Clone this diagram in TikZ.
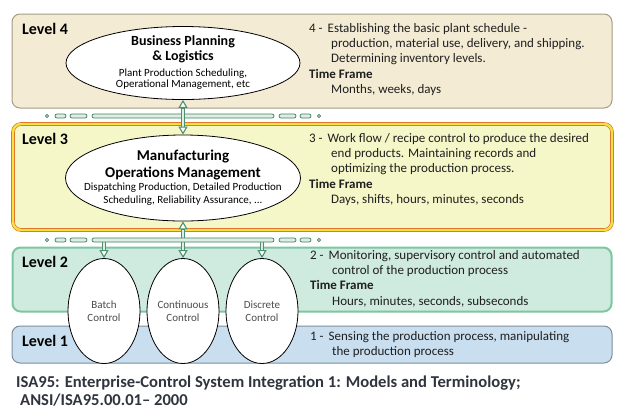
\documentclass[tikz,border=0pt]{standalone}
\usepackage{fontspec}
\setmainfont{Carlito}
\usetikzlibrary{shapes.geometric,arrows.meta,calc}

\definecolor{fourfill}{HTML}{F3EBD4}
\definecolor{fourline}{HTML}{A39B84}
\definecolor{threefill}{HTML}{F6F7C9}
\definecolor{threeline}{HTML}{E0672C}
\definecolor{threeband}{HTML}{F2E33E}
\definecolor{twofill}{HTML}{CFEADE}
\definecolor{twoline}{HTML}{7CC6A2}
\definecolor{onefill}{HTML}{C9DFEF}
\definecolor{oneline}{HTML}{7F8D99}
\definecolor{busgreen}{HTML}{3F7F5E}
\definecolor{pipegreen}{HTML}{4C9070}
\definecolor{pipefill}{HTML}{DDEFE3}
\definecolor{captext}{HTML}{30343E}

\tikzset{
  levelbox/.style={rounded corners=8pt, inner sep=0pt},
  lvl/.style={anchor=west, inner sep=0pt, font=\fontsize{16}{18}\selectfont\bfseries},
  desc/.style={anchor=north west, inner sep=0pt, align=left, text=black!88,
    font=\fontsize{13}{15.3}\selectfont},
  bubble/.style={ellipse, draw=black, line width=0.8pt, fill=white, inner sep=0pt, align=center},
  bigbubble/.style={bubble, inner xsep=-40pt, inner ysep=-15pt, font=\fontsize{14}{15}\selectfont},
  pill/.style={draw=busgreen, fill=pipefill, line width=0.7pt, rounded corners=2pt},
  pipe/.style={draw=pipegreen, double=pipefill, double distance=2pt, line width=1.1pt},
  head/.style={draw=pipegreen, line width=1.1pt, -{Triangle[width=9pt, length=8pt, fill=white]}}
}

\newcommand{\ind}{\hspace*{22pt}}

\begin{document}
\begin{tikzpicture}[x=1pt, y=-1pt]
	\useasboundingbox (0,0) rectangle (623,416);

	% level boxes
	\node[levelbox, draw=fourline, line width=1pt, fill=fourfill, minimum width=600pt, minimum height=94pt] (L4) at (312,61) {};
	\node[levelbox, draw=threeline, double=threeband, double distance=2.4pt, line width=0.6pt, fill=threefill, minimum width=599pt, minimum height=106pt] (L3) at (312.5,177) {};
	\node[levelbox, draw=twoline, line width=2pt, fill=twofill, minimum width=599pt, minimum height=64pt] (L2) at (312,279.5) {};
	\node[levelbox, draw=oneline, line width=1pt, fill=onefill, minimum width=600pt, minimum height=37pt] (L1) at (312,344.5) {};

	\node[lvl] (n4) at (22,29) {Level 4};
	\node[lvl] (n3) at (22,139) {Level 3};
	\node[lvl] (n2) at (22,262) {Level 2};
	\node[lvl] (n1) at (22,341) {Level 1};

	% descriptions
	\node[desc] (d4) at (309,23) {4 -\hspace*{5pt}Establishing the basic plant schedule -\\ \ind production, material use, delivery, and shipping.\\ \ind Determining inventory levels.\\ \textbf{Time Frame}\\ \ind Months, weeks, days};
	\node[desc] (d3) at (309,133) {3 -\hspace*{5pt}Work flow / recipe control to produce the desired\\ \ind end products. Maintaining records and\\ \ind optimizing the production process.\\ \textbf{Time Frame}\\ \ind Days, shifts, hours, minutes, seconds};
	\node[desc] (d2) at (310,250) {2 -\hspace*{5pt}Monitoring, supervisory control and automated\\ \ind control of the production process\\ \textbf{Time Frame}\\ \ind Hours, minutes, seconds, subseconds};
	\node[desc] (d1) at (310,331) {1 -\hspace*{5pt}Sensing the production process, manipulating\\ \ind the production process};

	% ellipses
	\node[bigbubble, minimum width=234pt, minimum height=73pt] (e4) at (183,63)
		{{\bfseries Business Planning}\\
		 {\bfseries \& Logistics}\\[1pt]
		 {\fontsize{11}{12}\selectfont Plant Production Scheduling,}\\[-4pt]
		 {\fontsize{11}{12}\selectfont Operational Management, etc}};
	\node[bigbubble, minimum width=235pt, minimum height=86pt] (e3) at (183,178)
		{{\fontsize{15}{16}\selectfont\bfseries Manufacturing}\\[2pt]
		 {\fontsize{15}{16}\selectfont\bfseries Operations Management}\\[-2pt]
		 {\fontsize{11}{12}\selectfont Dispatching Production, Detailed Production}\\[-2pt]
		 {\fontsize{11}{12}\selectfont Scheduling, Reliability Assurance, ...}};
	\node[bubble, minimum width=72pt, minimum height=105pt, font=\fontsize{11}{13}\selectfont, text=black!70] (eb) at (104,311) {Batch\\Control};
	\node[bubble, minimum width=72pt, minimum height=105pt, font=\fontsize{11}{13}\selectfont, text=black!70] (ec) at (183,311) {Continuous\\Control};
	\node[bubble, minimum width=72pt, minimum height=105pt, font=\fontsize{11}{13}\selectfont, text=black!70] (ed) at (262,311) {Discrete\\Control};

	% busses
	\coordinate (bus4) at (183,116);
	\coordinate (bus3) at (183,240);
	\draw[pipe, shorten >=7pt] (bus3) -- (e3.south);
	\foreach \e in {eb,ec,ed}
		\draw[pipe, shorten >=7pt] (\e.north |- bus3) -- (\e.north);
	\foreach \y in {116,240} {
		\foreach \a/\b in {55/66,70/87,92/274,279/296,300/311}
			\draw[pill] (\a,\y-2) rectangle (\b,\y+2);
		\draw[pill] (47,\y) circle (1.6pt);
		\draw[pill] (319,\y) circle (1.6pt);
	}
	\draw[pipe, shorten >=7pt, shorten <=7pt] (e4.south) -- (e3.north);

	% arrow heads
	\draw[head] ($(e4.south)+(0,8)$) -- (e4.south);
	\draw[head] ($(e3.north)+(0,-8)$) -- (e3.north);
	\draw[head] ($(e3.south)+(0,8)$) -- (e3.south);
	\foreach \e in {eb,ec,ed}
		\draw[head] ($(\e.north)+(0,-8)$) -- (\e.north);

	% caption
	\node[anchor=north west, inner sep=0pt, align=left, text=captext, font=\fontsize{16.6}{18}\selectfont\bfseries] (cap) at (16,376)
		{ISA95: Enterprise-Control System Integration 1: Models and Terminology;\\ \hspace*{4pt}ANSI/ISA95.00.01-- 2000};
\end{tikzpicture}
\end{document}
